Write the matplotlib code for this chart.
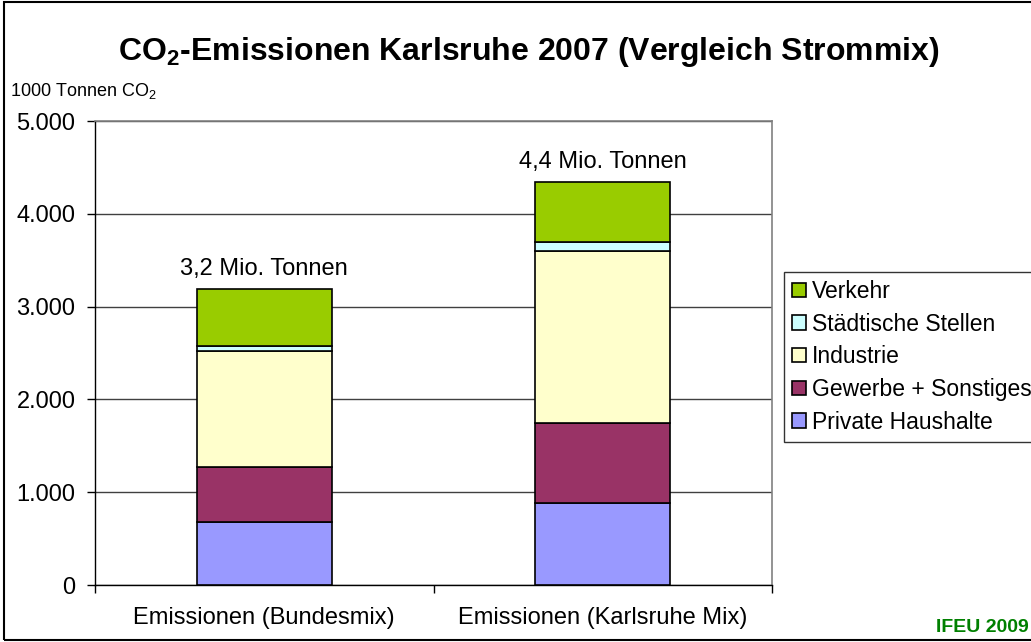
import numpy as np
import matplotlib.pyplot as plt
from matplotlib.patches import Rectangle

plt.rcParams['font.family'] = ['Liberation Sans', 'DejaVu Sans']
plt.rcParams['mathtext.fontset'] = 'custom'
plt.rcParams['mathtext.rm'] = 'Liberation Sans'
plt.rcParams['mathtext.bf'] = 'Liberation Sans:bold'

# Daten (1000 Tonnen CO2)
kategorien = ['Emissionen (Bundesmix)', 'Emissionen (Karlsruhe Mix)']
sektoren = ['Private Haushalte', 'Gewerbe + Sonstiges', 'Industrie',
            'Städtische Stellen', 'Verkehr']
private = [676, 887]
gewerbe = [599, 855]
industrie = [1247, 1861]
staedtisch = [57, 90]
verkehr = [611, 650]
summen_text = ['3,2 Mio. Tonnen', '4,4 Mio. Tonnen']

farben = ['#9999ff', '#993366', '#ffffcc', '#ccffff', '#99cc00']
werte = [private, gewerbe, industrie, staedtisch, verkehr]

W, H = 1031, 642
fig = plt.figure(figsize=(W / 100, H / 100), dpi=100)
ax = fig.add_axes([95 / W, 1 - 585 / H, (772 - 95) / W, (585 - 121) / H])

x = np.arange(len(kategorien))
unten = np.zeros(len(kategorien))
for name, v, c in zip(sektoren, werte, farben):
    ax.bar(x, v, 0.4, bottom=unten, color=c, edgecolor='black',
           linewidth=1.2, label=name, zorder=3)
    unten += np.array(v)

for xi, total, t in zip(x, unten, summen_text):
    ax.text(xi, total + 150, t, ha='center', va='baseline', fontsize=17)

ax.set_xlim(-0.5, 1.5)
ax.set_ylim(0, 5000)
ax.set_yticks(np.arange(0, 5001, 1000))
ax.set_yticklabels(['0', '1.000', '2.000', '3.000', '4.000', '5.000'])
ax.set_xticks(x)
ax.set_xticklabels(kategorien)
ax.set_xticks([-0.5, 0.5, 1.5], minor=True)
ax.tick_params(axis='x', which='major', length=0, pad=16, labelsize=17)
ax.tick_params(axis='x', which='minor', length=6, direction='out', width=1)
ax.tick_params(axis='y', length=6, direction='out', width=1, labelsize=17, pad=8)
ax.yaxis.grid(True, color='#404040', linewidth=1, zorder=0)
ax.set_axisbelow(True)

for s in ['top', 'right']:
    ax.spines[s].set_color('#808080')
    ax.spines[s].set_linewidth(1.2)
for s in ['left', 'bottom']:
    ax.spines[s].set_color('black')
    ax.spines[s].set_linewidth(1)

# Legende (umgekehrte Reihenfolge)
h, l = ax.get_legend_handles_labels()
leg = fig.legend(h[::-1], l[::-1], loc='upper left',
                 bbox_to_anchor=(784 / W, 1 - 272 / H), fontsize=16.5,
                 frameon=True, fancybox=False, edgecolor='black',
                 handlelength=0.6, handleheight=0.6, handletextpad=0.25,
                 labelspacing=0.42, borderpad=0.35, borderaxespad=0)
leg.get_frame().set_linewidth(1)

fig.text(529 / W, 1 - 60 / H, r'CO$_\mathbf{2}$-Emissionen Karlsruhe 2007 (Vergleich Strommix)',
         ha='center', va='baseline', fontsize=23, fontweight='bold')
fig.text(10 / W, 1 - 96 / H, r'1000 Tonnen CO$_2$', ha='left', va='baseline',
         fontsize=13)
fig.text(1029 / W, 1 - 632 / H, 'IFEU 2009', ha='right', va='baseline',
         fontsize=14, fontweight='bold', color='#008000')

fig.patches.append(Rectangle((4 / W, 1 - 640 / H), 1.1, 638 / H,
                             transform=fig.transFigure, fill=False,
                             edgecolor='black', linewidth=1.5))

fig.savefig('out.png', dpi=100)
